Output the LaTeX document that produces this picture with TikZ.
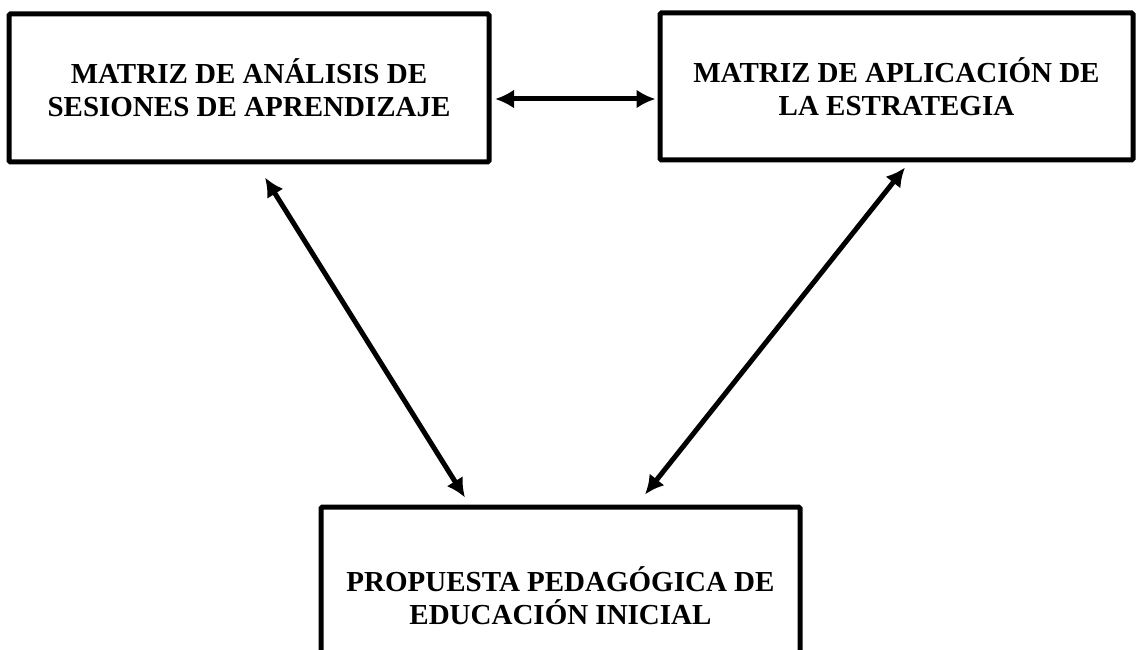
\documentclass[tikz,border=0pt]{standalone}
\usepackage{fontspec}
\setmainfont{Liberation Serif}
\usetikzlibrary{arrows.meta}
\begin{document}
\begin{tikzpicture}[x=1pt,y=1pt,
  box/.style={draw=black, line width=5pt, rounded corners=1.5pt, fill=white,
    align=center, inner sep=0pt,
    font=\bfseries\fontsize{29}{33}\selectfont},
  arr/.style={line width=5pt, {Latex[length=19pt,width=19pt]}-{Latex[length=19pt,width=19pt]}}]
\useasboundingbox (0,0) rectangle (1136,-650);
\node[box, minimum width=480pt, minimum height=148pt] (b1) at (249,-88)
  {MATRIZ DE ANÁLISIS DE\\SESIONES DE APRENDIZAJE};
\node[box, minimum width=473pt, minimum height=147pt] (b2) at (896.5,-86.5)
  {MATRIZ DE APLICACIÓN DE\\LA ESTRATEGIA};
\node[box, minimum width=479pt, minimum height=178pt] (b3) at (560.5,-596)
  {PROPUESTA PEDAGÓGICA DE\\EDUCACIÓN INICIAL};
\draw[arr] ([xshift=3.5pt,yshift=-11pt]b1.east) -- ([xshift=-2pt,yshift=-12.5pt]b2.west);
\draw[arr] ([xshift=16pt,yshift=-13pt]b1.south) -- ([xshift=-95.5pt,yshift=7pt]b3.north);
\draw[arr] ([xshift=8.5pt,yshift=-5pt]b2.south) -- ([xshift=84.5pt,yshift=10pt]b3.north);
\end{tikzpicture}
\end{document}
